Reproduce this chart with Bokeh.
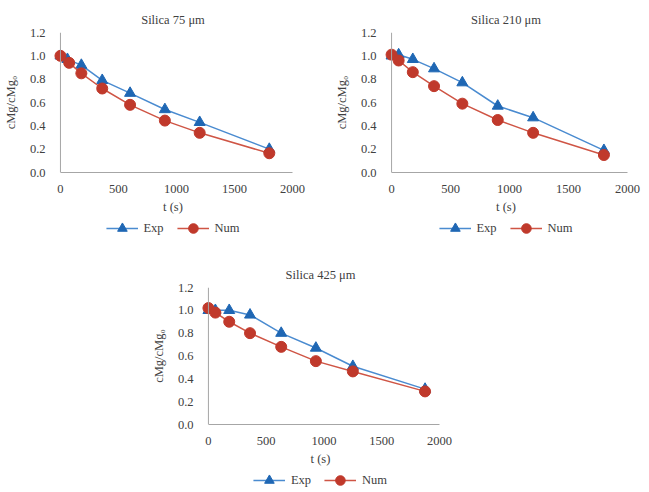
from bokeh.plotting import figure
from bokeh.models import Range1d, FixedTicker, NumeralTickFormatter, Span, Legend, LegendItem, Spacer
from bokeh.layouts import column, row
from bokeh.embed import file_html
from bokeh.resources import INLINE

# ---- data ----
titles = ["Silica 75 \u03bcm", "Silica 210 \u03bcm", "Silica 425 \u03bcm"]

t_75_exp = [0, 60, 180, 360, 600, 900, 1200, 1800]
exp_75 = [1.0, 0.97, 0.92, 0.79, 0.68, 0.54, 0.43, 0.20]
t_75_num = [0, 75, 180, 360, 600, 900, 1200, 1800]
num_75 = [1.0, 0.94, 0.85, 0.72, 0.58, 0.445, 0.34, 0.165]

t_210_exp = [0, 60, 180, 360, 600, 900, 1200, 1800]
exp_210 = [1.0, 1.01, 0.97, 0.89, 0.77, 0.57, 0.47, 0.19]
t_210_num = [0, 60, 180, 360, 600, 900, 1200, 1800]
num_210 = [1.01, 0.96, 0.86, 0.74, 0.59, 0.45, 0.34, 0.15]

t_425_exp = [0, 60, 180, 360, 630, 930, 1250, 1875]
exp_425 = [1.0, 1.0, 1.0, 0.96, 0.80, 0.67, 0.51, 0.31]
t_425_num = [0, 60, 180, 360, 630, 930, 1250, 1875]
num_425 = [1.02, 0.98, 0.90, 0.80, 0.68, 0.555, 0.465, 0.29]

x_ticks = [0, 500, 1000, 1500, 2000]
y_ticks = [0.0, 0.2, 0.4, 0.6, 0.8, 1.0, 1.2]
series_names = ["Exp", "Num"]

FONT = "Liberation Serif"
FS = "12.5px"
TXT = "#404040"
AXC = "#a6a6a6"
BLUE_L, BLUE_M = "#4a8bd0", "#1f67b4"
RED_L, RED_M = "#cf5545", "#c0392b"

EXP_STYLE = dict(marker="triangle", size=11, fill_color=BLUE_M, line_color=BLUE_M)
NUM_STYLE = dict(marker="circle", size=11, fill_color=RED_M, line_color=RED_M)


def panel(title, te, ye, tn, yn, w, h, left, right, top, bottom):
    p = figure(width=w, height=h,
               x_range=Range1d(-60, 2000), y_range=Range1d(0, 1.2),
               output_backend="svg", toolbar_location=None,
               min_border_left=left, min_border_right=right,
               min_border_top=top, min_border_bottom=bottom,
               border_fill_color="white", outline_line_color=None)
    p.title.text = title
    p.title.align = "center"
    p.title.text_font = FONT
    p.title.text_font_size = FS
    p.title.text_font_style = "normal"
    p.title.text_color = TXT
    p.title.standoff = 11
    p.grid.visible = False

    xa = p.xaxis[0]
    xa.ticker = FixedTicker(ticks=x_ticks)
    xa.bounds = (0, 2000)
    xa.axis_line_color = AXC
    xa.major_tick_line_color = None
    xa.minor_tick_line_color = None
    xa.major_label_standoff = 6
    xa.axis_label = "t (s)"
    xa.axis_label_standoff = 4
    xa.axis_label_text_font = FONT
    xa.axis_label_text_font_size = FS
    xa.axis_label_text_font_style = "normal"
    xa.axis_label_text_color = TXT
    xa.major_label_text_font = FONT
    xa.major_label_text_font_size = FS
    xa.major_label_text_color = TXT

    ya = p.yaxis[0]
    ya.ticker = FixedTicker(ticks=y_ticks)
    ya.formatter = NumeralTickFormatter(format="0.0")
    ya.axis_line_color = None
    ya.major_tick_line_color = None
    ya.minor_tick_line_color = None
    ya.major_label_standoff = 2
    ya.axis_label = "cMg/cMg\u2080"
    ya.axis_label_standoff = 9
    ya.axis_label_text_font = FONT
    ya.axis_label_text_font_size = FS
    ya.axis_label_text_font_style = "normal"
    ya.axis_label_text_color = TXT
    ya.major_label_text_font = FONT
    ya.major_label_text_font_size = FS
    ya.major_label_text_color = TXT

    p.add_layout(Span(location=0, dimension="height", line_color=AXC, line_width=1))

    p.line(te, ye, line_color=BLUE_L, line_width=1.5)
    p.scatter(te, ye, **EXP_STYLE)
    p.line(tn, yn, line_color=RED_L, line_width=1.5)
    p.scatter(tn, yn, **NUM_STYLE)
    return p


def legend_fig(te, ye, tn, yn, w, h, left, right):
    # legend-only strip: same series, drawn off-range so only the legend keys show
    lf = figure(width=w, height=h, x_range=Range1d(-9000, -8000), y_range=Range1d(0, 1),
                output_backend="svg", toolbar_location=None,
                x_axis_location=None, y_axis_location=None,
                min_border_left=left, min_border_right=right,
                min_border_top=0, min_border_bottom=0, outline_line_color=None)
    lf.grid.visible = False
    le = lf.line(te, ye, line_color=BLUE_L, line_width=1.5)
    me = lf.scatter(te, ye, **EXP_STYLE)
    ln = lf.line(tn, yn, line_color=RED_L, line_width=1.5)
    mn = lf.scatter(tn, yn, **NUM_STYLE)
    legend = Legend(items=[LegendItem(label=series_names[0], renderers=[le, me]),
                           LegendItem(label=series_names[1], renderers=[ln, mn])],
                    orientation="horizontal", location="center",
                    border_line_color=None, background_fill_alpha=0,
                    glyph_width=32, glyph_height=24, label_height=14,
                    label_standoff=6, spacing=13, padding=0, margin=0,
                    label_text_font=FONT, label_text_font_size=FS, label_text_color=TXT)
    lf.add_layout(legend)
    return lf


p1 = panel(titles[0], t_75_exp, exp_75, t_75_num, num_75, 320, 216, 44, 28, 32, 44)
p2 = panel(titles[1], t_210_exp, exp_210, t_210_num, num_210, 329, 216, 60, 22, 32, 44)
p3 = panel(titles[2], t_425_exp, exp_425, t_425_num, num_425, 320, 215, 44, 29, 34, 41)

# legend strips: centre of legend = centre of the strip's frame
l1 = legend_fig(t_75_exp, exp_75, t_75_num, num_75, 320, 24, 47, 25)
l2 = legend_fig(t_210_exp, exp_210, t_210_num, num_210, 329, 24, 64, 10)
l3 = legend_fig(t_425_exp, exp_425, t_425_num, num_425, 320, 24, 47, 26)

layout = column(row(column(p1, l1, Spacer(width=320, height=13)),
                    column(p2, l2, Spacer(width=329, height=13))),
                row(Spacer(width=148, height=10), column(p3, l3)))

open("out.html", "w").write(file_html(layout, INLINE))
